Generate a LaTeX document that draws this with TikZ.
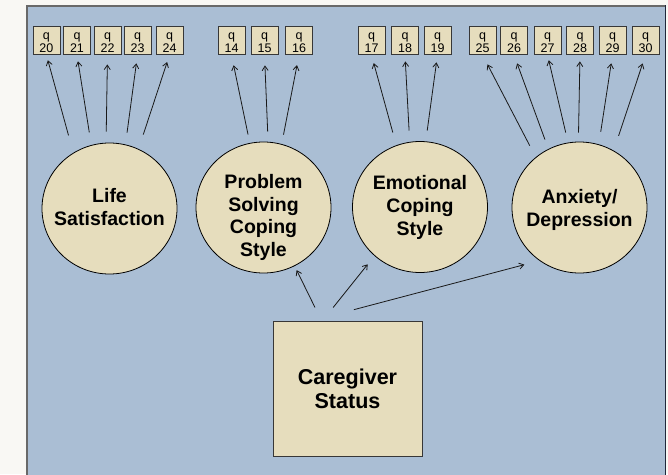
\documentclass[tikz,border=0pt]{standalone}
\usepackage{fontspec}
\setmainfont{Liberation Sans}
\usetikzlibrary{shapes.geometric,arrows.meta}
\definecolor{pagebg}{RGB}{249,248,244}
\definecolor{panel}{RGB}{170,190,212}
\definecolor{beige}{RGB}{230,221,189}
\definecolor{edge}{RGB}{55,55,55}
\definecolor{leftedge}{RGB}{105,105,105}
\definecolor{rightedge}{RGB}{30,40,60}
% #1 baselineskip, #2 distance from node centre down to last baseline, #3 lines
\newcommand\mlines[3]{\raisebox{-#2}[0pt][0pt]{\hbox to 0pt{\hss\vbox{\baselineskip=#1\halign{\hfil##\hfil\cr#3\cr}}\hss}}}
\tikzset{
  qbox/.style={draw=edge, line width=0.8pt, fill=beige, minimum width=27pt, minimum height=28pt,
    inner sep=0pt, font=\fontsize{12.5}{13}\selectfont},
  latent/.style={ellipse, draw=black, line width=0.8pt, fill=beige, minimum width=135pt,
    minimum height=131pt, inner sep=0pt, font=\bfseries\fontsize{19.5}{22.8}\selectfont},
  obsbox/.style={draw=edge, line width=1pt, fill=beige, minimum width=149pt, minimum height=135pt,
    inner sep=0pt, font=\bfseries\fontsize{21.5}{24}\selectfont},
  arr/.style={-{Straight Barb[length=4.5pt,width=6pt]}, line width=0.8pt, draw=black!90},
}
\begin{document}
\begin{tikzpicture}[x=1pt,y=-1pt]
\useasboundingbox (0,0) rectangle (668,474);
\fill[pagebg] (0,0) rectangle (668,474);
\filldraw[fill=panel, draw=leftedge, line width=1.2pt] (27,6) rectangle (665.5,490);
\draw[leftedge, line width=2pt] (27,5.4) -- (27,490);
\draw[rightedge, line width=1.2pt] (665.5,5.4) -- (665.5,490);

% indicator boxes
\node[qbox] (q20) at (46.4,40.5) {\mlines{13pt}{11.5pt}{q\cr 20}};
\node[qbox] (q21) at (77,40.5) {\mlines{13pt}{11.5pt}{q\cr 21}};
\node[qbox] (q22) at (107.5,40.5) {\mlines{13pt}{11.5pt}{q\cr 22}};
\node[qbox] (q23) at (137.5,40.5) {\mlines{13pt}{11.5pt}{q\cr 23}};
\node[qbox] (q24) at (169.5,40.5) {\mlines{13pt}{11.5pt}{q\cr 24}};
\node[qbox] (q14) at (231.5,40.5) {\mlines{13pt}{11.5pt}{q\cr 14}};
\node[qbox] (q15) at (264.5,40.5) {\mlines{13pt}{11.5pt}{q\cr 15}};
\node[qbox] (q16) at (299,40.5) {\mlines{13pt}{11.5pt}{q\cr 16}};
\node[qbox] (q17) at (371.5,40.5) {\mlines{13pt}{11.5pt}{q\cr 17}};
\node[qbox] (q18) at (405,40.5) {\mlines{13pt}{11.5pt}{q\cr 18}};
\node[qbox] (q19) at (437.5,40.5) {\mlines{13pt}{11.5pt}{q\cr 19}};
\node[qbox] (q25) at (482.5,40.5) {\mlines{13pt}{11.5pt}{q\cr 25}};
\node[qbox] (q26) at (514,40.5) {\mlines{13pt}{11.5pt}{q\cr 26}};
\node[qbox] (q27) at (547.5,40.5) {\mlines{13pt}{11.5pt}{q\cr 27}};
\node[qbox] (q28) at (580,40.5) {\mlines{13pt}{11.5pt}{q\cr 28}};
\node[qbox] (q29) at (612.5,40.5) {\mlines{13pt}{11.5pt}{q\cr 29}};
\node[qbox] (q30) at (645.5,40.5) {\mlines{13pt}{11.5pt}{q\cr 30}};

% latent variables
\node[latent] (ls) at (109.5,208.5) {\mlines{22.8pt}{16.5pt}{Life\cr Satisfaction}};
\node[latent] (ps) at (263.5,207.5) {\mlines{22.5pt}{48.5pt}{Problem\cr Solving\cr Coping\cr Style}};
\node[latent] (es) at (420,207) {\mlines{23.2pt}{28.7pt}{Emotional\cr Coping\cr Style}};
\node[latent] (ad) at (579.5,207.5) {\mlines{22.8pt}{19.2pt}{Anxiety/\cr Depression}};

% caregiver status
\node[obsbox] (cg) at (347.5,388.5) {\mlines{24pt}{19.5pt}{Caregiver\cr Status}};

% loadings
\draw[arr, shorten <=18pt, shorten >=5.5pt] (ls.123.8) -- (q20.south);
\draw[arr, shorten <=12.7pt, shorten >=6.5pt] (ls.106.4) -- (q21.south);
\draw[arr, shorten <=11.1pt, shorten >=9.5pt] (ls.93.3) -- (q22.south);
\draw[arr, shorten <=11.9pt, shorten >=8.5pt] (ls.76.0) -- (q23.south);
\draw[arr, shorten <=15.1pt, shorten >=7.5pt] (ls.64.1) -- (q24.south);

\draw[arr, shorten <=8.6pt, shorten >=10.5pt] (ps.102.1) -- (q14.south);
\draw[arr, shorten <=10.1pt, shorten >=10.5pt] (ps.86.6) -- (q15.south);
\draw[arr, shorten <=9.5pt, shorten >=10.5pt] (ps.74.4) -- (q16.south);

\draw[arr, shorten <=13.1pt, shorten >=8.5pt] (es.111.0) -- (q17.south);
\draw[arr, shorten <=11.3pt, shorten >=6.5pt] (es.99.1) -- (q18.south);
\draw[arr, shorten <=10.8pt, shorten >=7.5pt] (es.85.2) -- (q19.south);

\draw[arr, shorten <=12.9pt, shorten >=10.7pt] (ad.131.0) -- (q25.south);
\draw[arr, shorten <=10pt, shorten >=9pt] (ad.118.1) -- (q26.south);
\draw[arr, shorten <=10.3pt, shorten >=5.5pt] (ad.100.75) -- (q27.south);
\draw[arr, shorten <=9pt, shorten >=6.5pt] (ad.91.5) -- (q28.south);
\draw[arr, shorten <=12.7pt, shorten >=8.5pt] (ad.73.65) -- (q29.south);
\draw[arr, shorten <=15.5pt, shorten >=9pt] (ad.59.5) -- (q30.south);

% structural paths
\draw[arr, shorten <=14.5pt, shorten >=4.5pt] (cg.111.1) -- (ps.-62.5);
\draw[arr, shorten <=16.6pt, shorten >=10.8pt] (cg.110.2) -- (es.-133);
\draw[arr, shorten <=42.4pt, shorten >=15.6pt] (cg.117.7) -- (ad.-127.6);
\end{tikzpicture}
\end{document}
